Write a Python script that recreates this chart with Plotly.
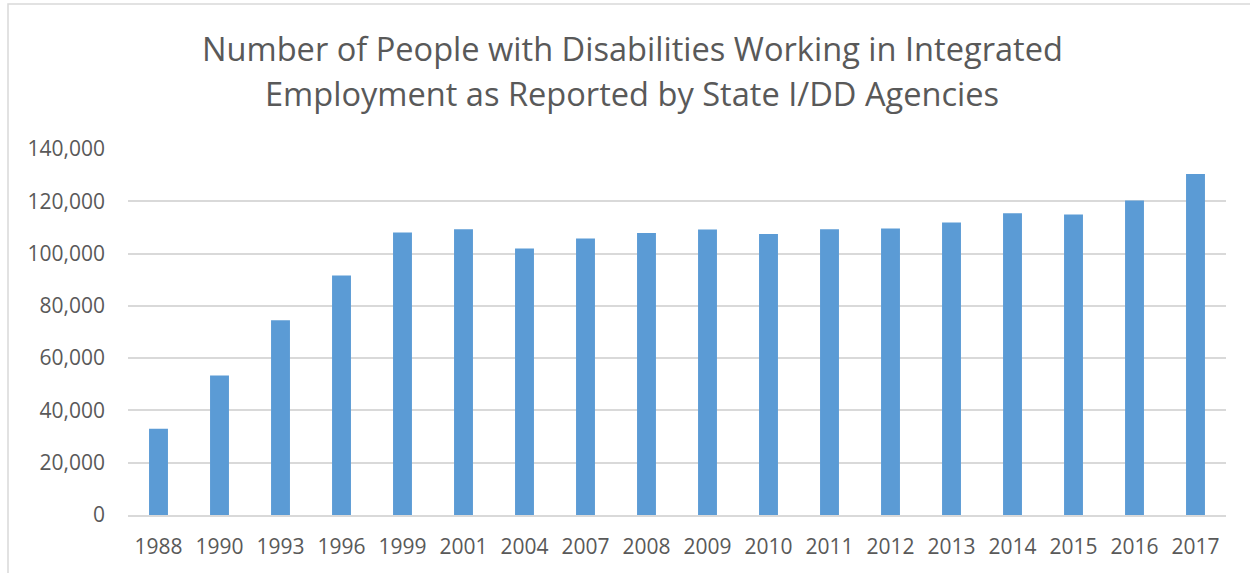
import plotly.graph_objects as go

years = ["1988", "1990", "1993", "1996", "1999", "2001", "2004", "2007", "2008",
         "2009", "2010", "2011", "2012", "2013", "2014", "2015", "2016", "2017"]
people = [33000, 53400, 74500, 91600, 108100, 109300, 101900, 105800, 107900,
          109200, 107500, 109300, 109600, 111900, 115400, 114900, 120300, 130400]
y_ticks = [0, 20000, 40000, 60000, 80000, 100000, 120000, 140000]
title_lines = ["Number of People with Disabilities Working in Integrated",
               "Employment as Reported by State I/DD Agencies"]

W, H = 1250, 573
L, R, T, B = 128, 24, 149, 58
pw, ph = W - L - R, H - T - B

def px_x(px):
    return (px - L) / pw

def px_y(py):
    return (H - B - py) / ph

fig = go.Figure(go.Bar(x=years, y=people, marker=dict(color="#5b9bd5", line=dict(width=0))))

grey = "#595959"
fig.update_layout(
    width=W, height=H,
    margin=dict(l=L, r=R, t=T, b=B, autoexpand=False),
    paper_bgcolor="white", plot_bgcolor="white",
    bargap=0.69,
    showlegend=False,
    font=dict(family="Open Sans", color=grey, size=21),
    xaxis=dict(type="category", showgrid=False, showline=True, linecolor="#d9d9d9",
               linewidth=1.5, ticks="", ticklabelstandoff=12,
               tickfont=dict(size=21, color=grey)),
    yaxis=dict(range=[0, 140000], tickvals=y_ticks, tickformat=",d",
               showgrid=True, gridcolor="#d9d9d9", gridwidth=1.5, zeroline=False,
               showline=False, ticks="", ticklabelstandoff=22,
               tickfont=dict(size=21, color=grey)),
    shapes=[dict(type="rect", xref="paper", yref="paper",
                 x0=px_x(8), x1=px_x(1270), y0=px_y(600), y1=px_y(4),
                 line=dict(color="#d9d9d9", width=1.5), fillcolor="rgba(0,0,0,0)", layer="below")],
    annotations=[
        dict(text=title_lines[0], xref="paper", yref="paper", x=px_x(632), y=px_y(48),
             xanchor="center", yanchor="middle", showarrow=False,
             font=dict(family="Open Sans", size=32.6, color=grey)),
        dict(text=title_lines[1], xref="paper", yref="paper", x=px_x(632), y=px_y(94),
             xanchor="center", yanchor="middle", showarrow=False,
             font=dict(family="Open Sans", size=32.6, color=grey)),
    ],
)

fig.write_html("out.html")
